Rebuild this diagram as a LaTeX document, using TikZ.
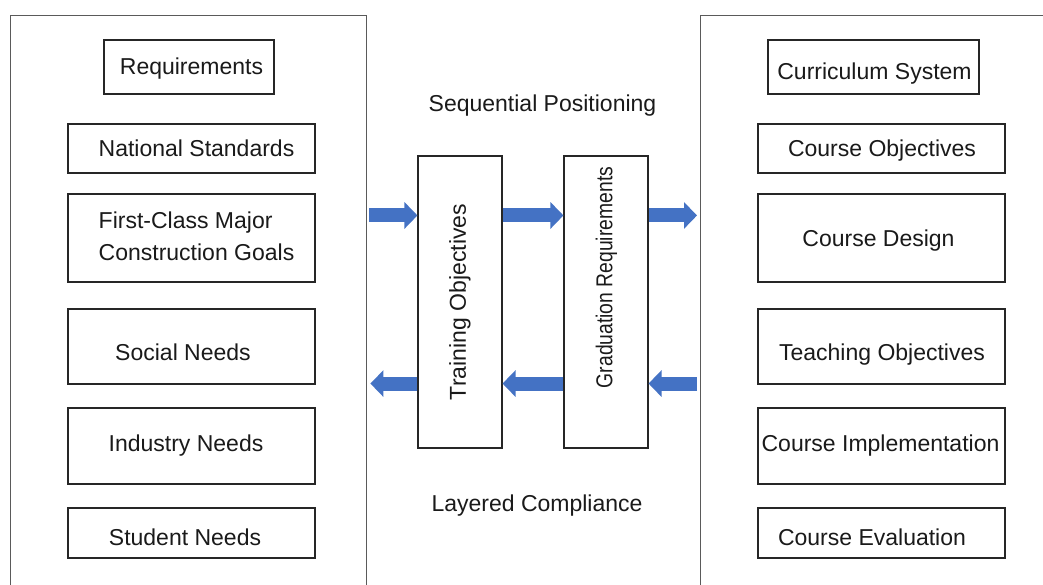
\documentclass[tikz,border=0pt]{standalone}
\usepackage{fontspec}
\setmainfont{Liberation Sans}
\usetikzlibrary{arrows.meta,calc}
\definecolor{arrowblue}{HTML}{4472C4}
\definecolor{framegray}{HTML}{5A5A5A}
\definecolor{ink}{HTML}{1A1A1A}
\begin{document}
\begin{tikzpicture}[x=1pt,y=-1pt,
  every node/.style={font=\fontsize{23}{32}\selectfont, text=ink, inner sep=0pt},
  txt/.style={text height=16.5pt, text depth=0pt},
  box/.style={draw=black!85, line width=1.1pt},
  panel/.style={draw=framegray, line width=1.4pt},
  barrow/.style={draw=arrowblue, line width=14pt, -{Triangle[width=26pt,length=13pt]}}]
\useasboundingbox (0,0) rectangle (1043,584);
\clip (0,0) rectangle (1043,584);
\fill[white] (0,0) rectangle (1043,584);
% panels
\node[panel, minimum width=356pt, minimum height=600pt, anchor=north west] (lp) at (10,15) {};
\node[panel, minimum width=360pt, minimum height=600pt, anchor=north west] (rp) at (700,15) {};
% left column
\node[box, minimum width=170pt, minimum height=54pt, label={[txt, xshift=2.5pt, yshift=0.5pt]center:Requirements}] (req) at (189,67) {};
\node[box, minimum width=247pt, minimum height=49pt, label={[txt, xshift=5pt]center:National Standards}] (nat) at (191.5,148.5) {};
\node[box, minimum width=247pt, minimum height=88pt, label={[align=left, xshift=5pt, yshift=2pt]center:First-Class Major\\Construction Goals}] (fcm) at (191.5,238) {};
\node[box, minimum width=247pt, minimum height=75pt, label={[txt, xshift=-8.5pt, yshift=-5.5pt]center:Social Needs}] (soc) at (191.5,346.5) {};
\node[box, minimum width=247pt, minimum height=76pt, label={[txt, xshift=-5.5pt, yshift=3pt]center:Industry Needs}] (ind) at (191.5,446) {};
\node[box, minimum width=247pt, minimum height=50pt, label={[txt, xshift=-6.5pt, yshift=-4pt]center:Student Needs}] (stu) at (191.5,533) {};
% right column
\node[box, minimum width=211pt, minimum height=54pt, label={[txt, xshift=1pt, yshift=-4pt]center:Curriculum System}] (cur) at (873.5,67) {};
\node[box, minimum width=247pt, minimum height=49pt, label={[txt, xshift=0.5pt]center:Course Objectives}] (cob) at (881.5,148.5) {};
\node[box, minimum width=247pt, minimum height=88pt, label={[txt, xshift=-3pt]center:Course Design}] (cde) at (881.5,238) {};
\node[box, minimum width=247pt, minimum height=75pt, label={[txt, xshift=0.5pt, yshift=-5.5pt]center:Teaching Objectives}] (tob) at (881.5,346.5) {};
\node[box, minimum width=247pt, minimum height=76pt, label={[txt, xshift=-1pt, yshift=3pt]center:Course Implementation}] (cim) at (881.5,446) {};
\node[box, minimum width=247pt, minimum height=50pt, label={[txt, xshift=-9.5pt, yshift=-4pt]center:Course Evaluation}] (cev) at (881.5,533) {};
% middle
\node[box, minimum width=84pt, minimum height=292pt] (tr) at (460,302) {};
\node[rotate=90] (trt) at (460,302) {Training Objectives};
\node[box, minimum width=84pt, minimum height=292pt] (gr) at (606,302) {};
\node[rotate=90] (grt) at (606.5,277.5) {\scalebox{0.84}[1]{Graduation Requirements}};
\node[txt] (seq) at (542.5,103) {Sequential Positioning};
\node[txt] (lay) at (537,503) {Layered Compliance};
% arrows
\draw[barrow] ($(lp.east |- tr.north)+(2,60)$) -- ($(tr.north west)+(0,60)$);
\draw[barrow] ($(tr.north east)+(0,60)$) -- ($(gr.north west)+(0,60)$);
\draw[barrow] ($(gr.north east)+(0,60)$) -- ($(rp.west |- gr.north)+(-3,60)$);
\draw[barrow] ($(tr.south west)+(0,-65)$) -- ($(lp.east |- tr.south)+(3,-65)$);
\draw[barrow] ($(gr.south west)+(0,-65)$) -- ($(tr.south east)+(0,-65)$);
\draw[barrow] ($(rp.west |- gr.south)+(-3,-65)$) -- ($(gr.south east)+(0,-65)$);
\end{tikzpicture}
\end{document}
